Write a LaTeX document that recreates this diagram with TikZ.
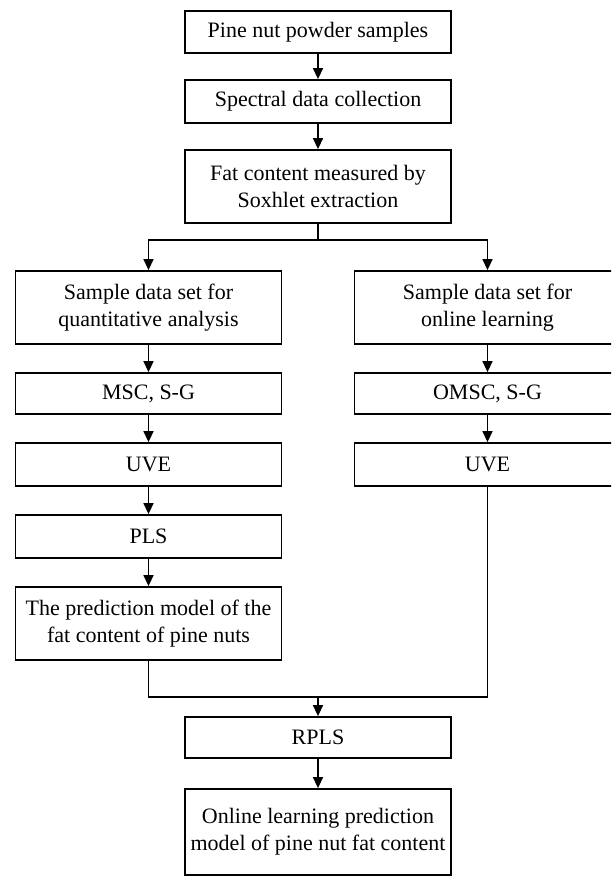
\documentclass[tikz,border=0pt]{standalone}
\usepackage{fontspec}
\setmainfont{Liberation Serif}
\usetikzlibrary{arrows.meta}
\begin{document}
\begin{tikzpicture}[x=1pt,y=-1pt,
 box/.style={draw, line width=1.8pt, minimum width=266pt, inner sep=0pt, align=center, font=\fontsize{22}{27}\selectfont},
 conn/.style={line width=1.4pt},
 arr/.style={conn, -{Triangle[length=11pt,width=10pt]}}]
\useasboundingbox (0,0) rectangle (611,876);
\clip (0,0) rectangle (611,876);
% centre column
\node[box, minimum height=42pt] (b1) at (318,32) {Pine nut powder samples};
\node[box, minimum height=43pt] (b2) at (318,101.5) {Spectral data collection};
\node[box, minimum height=73pt] (b3) at (318,186.5) {Fat content measured by\\Soxhlet extraction};
% left column
\node[box, minimum height=73pt] (L1) at (148.5,307.5) {Sample data set for\\quantitative analysis};
\node[box, minimum height=41pt] (L2) at (148.5,393.5) {MSC, S-G};
\node[box, minimum height=43pt] (L3) at (148.5,464.5) {UVE};
\node[box, minimum height=43pt] (L4) at (148.5,536.5) {PLS};
\node[box, minimum height=73pt] (L5) at (148.5,623.5) {The prediction model of the\\fat content of pine nuts};
% right column
\node[box, minimum height=73pt] (R1) at (487.5,307.5) {Sample data set for\\online learning};
\node[box, minimum height=41pt] (R2) at (487.5,393.5) {OMSC, S-G};
\node[box, minimum height=43pt] (R3) at (487.5,464.5) {UVE};
% bottom
\node[box, minimum height=41pt] (rp) at (318,737.5) {RPLS};
\node[box, minimum height=86pt] (fin) at (318,832) {Online learning prediction\\model of pine nut fat content};
% connectors
\draw[arr] (b1) -- (b2);
\draw[arr] (b2) -- (b3);
\coordinate (sp) at (318,240);
\draw[conn] (b3) -- (sp);
\draw[arr] (sp) -| (L1);
\draw[arr] (sp) -| (R1);
\draw[arr] (L1) -- (L2);
\draw[arr] (L2) -- (L3);
\draw[arr] (L3) -- (L4);
\draw[arr] (L4) -- (L5);
\draw[arr] (R1) -- (R2);
\draw[arr] (R2) -- (R3);
\coordinate (mg) at (318,697);
\draw[conn] (L5) |- (mg);
\draw[conn] (R3) |- (mg);
\draw[arr] (mg) -- (rp);
\draw[arr] (rp) -- (fin);
\end{tikzpicture}
\end{document}
